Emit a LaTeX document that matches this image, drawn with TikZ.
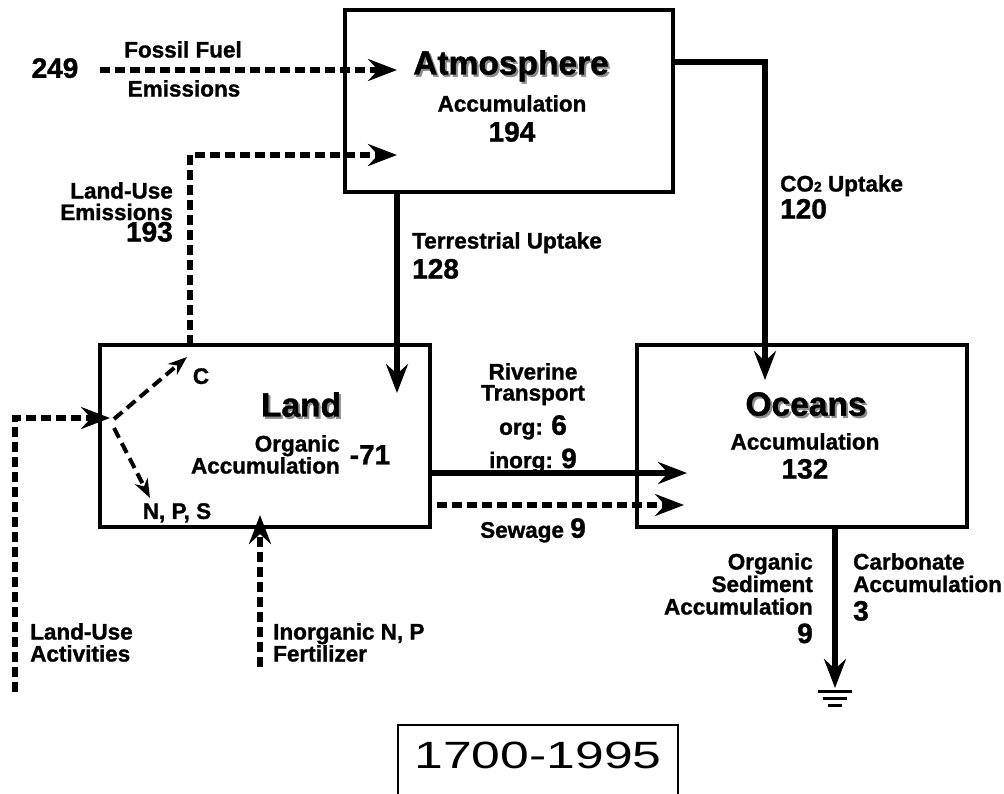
\documentclass[tikz,border=0pt]{standalone}
\usepackage{fontspec}
\setmainfont[BoldFeatures={FakeBold=1.2}]{Liberation Sans}
\usepackage{graphicx}
\usetikzlibrary{arrows.meta,calc}
\newcommand\nm[1]{{\fontsize{28}{30}\selectfont #1}}
\newcommand\shtext[1]{\rlap{\kern2pt\raisebox{-2.2pt}{\textcolor{black!45}{#1}}}#1}
\begin{document}
\begin{tikzpicture}[x=1pt,y=-1pt,
  box/.style={draw,line width=3.6pt,inner sep=0pt},
  lbl/.style={inner sep=0pt,font={\bfseries\fontsize{22.5}{22}\selectfont}},
  numlbl/.style={inner sep=0pt,font={\bfseries\fontsize{28}{30}\selectfont}},
  ttl/.style={inner sep=0pt,font={\bfseries\fontsize{33.5}{34}\selectfont}},
  tip/.style={-{Stealth[length=29pt,width=22pt,inset=10pt]}},
  smalltip/.style={-{Stealth[length=19pt,width=14pt,inset=6pt]}},
  solidarrow/.style={tip,line width=5.5pt},
  dasharrow/.style={tip,line width=6pt,dash pattern=on 10pt off 5pt},
  thindash/.style={smalltip,line width=4pt,dash pattern=on 11pt off 6pt},
]
\useasboundingbox (0,0) rectangle (1004,793);
\fill[white] (0,0) rectangle (1004,793);

% boxes
\node[box,minimum width=328pt,minimum height=182pt] (atm) at (509,101) {};
\node[box,minimum width=330pt,minimum height=182pt] (land) at (265,436) {};
\node[box,minimum width=330pt,minimum height=182pt] (oce) at (802,436) {};

% box texts
\node[ttl,anchor=north] (atmt) at (511,50) {\shtext{Atmosphere}};
\node[lbl,anchor=north,align=center,font={\bfseries\fontsize{22.5}{30}\selectfont}] (atma) at (512,95) {Accumulation\\\nm{194}};
\node[ttl,anchor=north] (landt) at (301,392) {\shtext{Land}};
\node[lbl,anchor=north east,align=right] (landa) at (340,435) {Organic\\Accumulation};
\node[numlbl,anchor=north] (landn) at (370,445) {-71};
\node[ttl,anchor=north] (ocet) at (806,392) {\shtext{Oceans}};
\node[lbl,anchor=north,align=center,font={\bfseries\fontsize{22.5}{29}\selectfont}] (ocea) at (805,433) {Accumulation\\\nm{132}};

% fossil fuel
\coordinate (ffs) at (100,70);
\coordinate (ffe) at (397,70);
\draw[dasharrow] (ffs) -- (ffe);
\node[numlbl,anchor=north] (n249) at (55,58) {249};
\node[lbl,anchor=north] (ff1) at (183,41) {Fossil Fuel};
\node[lbl,anchor=north] (ff2) at (184,80) {Emissions};

% land-use emissions
\coordinate (lues) at (190,345);
\coordinate (luet) at (397,155);
\draw[dasharrow] (lues) |- (luet);
\node[lbl,anchor=north east,align=right,font={\bfseries\fontsize{22.5}{21.5}\selectfont}] (luel) at (173,182) {Land-Use\\Emissions\\\nm{193}};

% terrestrial uptake
\coordinate (tt) at (397,393);
\draw[solidarrow] (tt |- atm.south) -- (tt);
\node[lbl,anchor=north west,align=left,font={\bfseries\fontsize{22.5}{30}\selectfont}] (terl) at (412,232) {Terrestrial Uptake\\\nm{128}};

% CO2 uptake
\coordinate (co2y) at (0,62);
\coordinate (co2t) at (765,380);
\draw[solidarrow] (co2y -| atm.east) -| (co2t);
\node[lbl,anchor=north west,align=left,font={\bfseries\fontsize{22.5}{27}\selectfont}] (co2l) at (780,175) {CO{\fontsize{14}{14}\selectfont 2} Uptake\\\nm{120}};

% riverine and sewage
\coordinate (rt) at (687,473);
\draw[solidarrow] (rt -| land.east) -- (rt);
\coordinate (st) at (684,505);
\draw[dasharrow] ($(st -| land.east)+(5,0)$) -- (st);
\node[lbl,anchor=north,align=center,font={\bfseries\fontsize{22.5}{21}\selectfont}] (rivl) at (533,363) {Riverine\\Transport\\[9pt]org: \nm{6}\\[8pt]inorg: \nm{9}};
\node[lbl,anchor=north] (sewl) at (533,518) {Sewage \nm{9}};

% sediments
\coordinate (gt) at (835,688);
\draw[solidarrow] (gt |- oce.south) -- (gt);
\draw[line width=3pt] ($(gt)+(-17,3)$) -- ($(gt)+(17,3)$);
\draw[line width=3pt] ($(gt)+(-12,10)$) -- ($(gt)+(12,10)$);
\draw[line width=3pt] ($(gt)+(-7,17)$) -- ($(gt)+(7,17)$);
\node[lbl,anchor=north east,align=right,font={\bfseries\fontsize{22.5}{22.5}\selectfont}] (orgsed) at (813,553) {Organic\\Sediment\\Accumulation\\[6pt]\nm{9}};
\node[lbl,anchor=north west,align=left,font={\bfseries\fontsize{22.5}{22.5}\selectfont}] (carb) at (853,553) {Carbonate\\Accumulation\\[6pt]\nm{3}};

% land-use activities
\coordinate (luas) at (15,692);
\coordinate (luat) at (110,418);
\draw[dasharrow] (luas) |- (luat);
\node[lbl,anchor=north west,align=left] (lual) at (30,623) {Land-Use\\Activities};
\coordinate (split) at (114,419);
\coordinate (ct) at (187,357);
\coordinate (npst) at (150,498);
\draw[thindash] (split) -- (ct);
\draw[thindash] ($(split)+(0,9)$) -- (npst);
\node[lbl,anchor=north] (cl) at (201,368) {C};
\node[lbl,anchor=north] (npsl) at (177,503) {N, P, S};

% fertilizer
\coordinate (fs) at (260,667);
\coordinate (ft) at (260,515);
\draw[dasharrow] (fs) -- (ft);
\node[lbl,anchor=north west,align=left] (fertl) at (273,623) {Inorganic N, P\\Fertilizer};

% period
\node[draw,line width=2pt,anchor=north,minimum width=280pt,inner xsep=0pt,inner ysep=0pt,
  text height=43pt,text depth=70pt,font={\fontsize{38}{40}\selectfont}] (yr) at (538,724)
  {\scalebox{1.36}[1]{1700-1995}};
\end{tikzpicture}
\end{document}
